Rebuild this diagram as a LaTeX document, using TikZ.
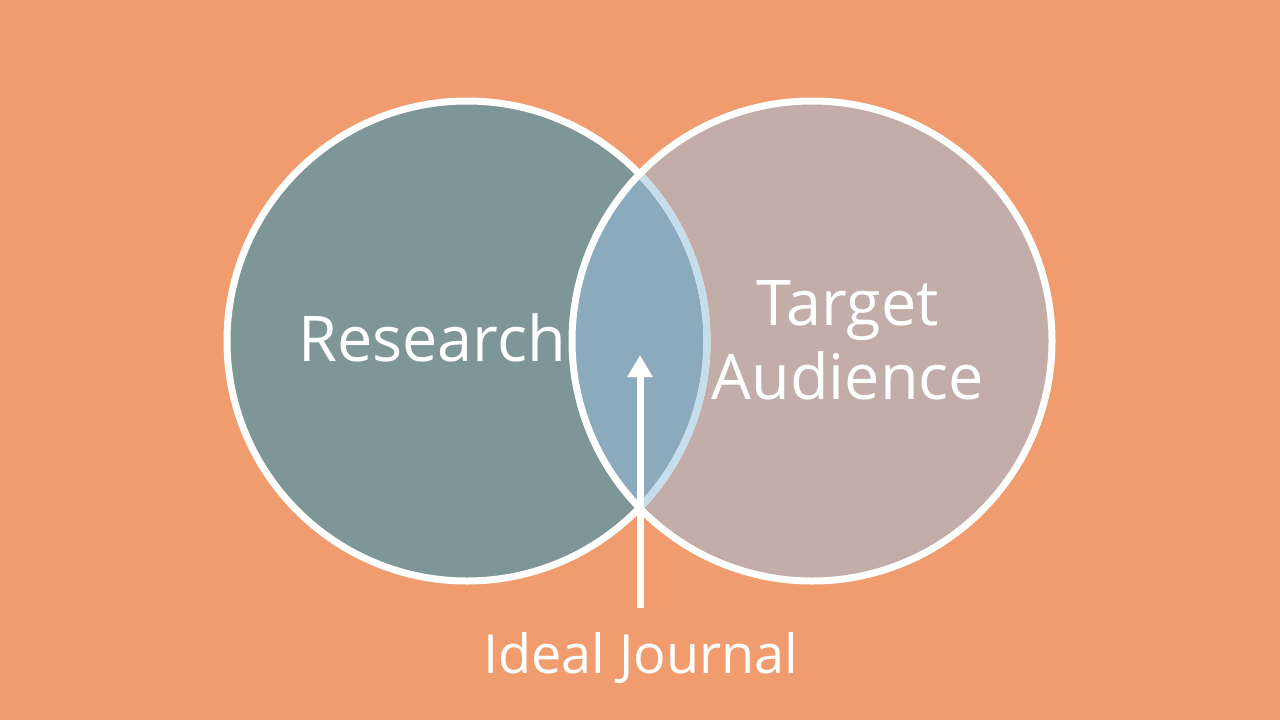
\documentclass[tikz,border=0pt]{standalone}
\usepackage{fontspec}
\setmainfont{Open Sans}
\usetikzlibrary{arrows.meta}
\definecolor{bgc}{HTML}{F09C6E}
\definecolor{leftc}{HTML}{7F9696}
\definecolor{rightc}{HTML}{C2ADA8}
\definecolor{lensc}{HTML}{8CAABD}
\definecolor{lensedge}{HTML}{C6DDEC}
\begin{document}
\begin{tikzpicture}[x=1pt,y=-1pt,
  ring/.style={draw=white,line width=7pt},
  lbl/.style={text=white,font=\fontsize{63}{74}\selectfont,align=center,inner sep=0pt}]
\fill[bgc] (0,0) rectangle (1280,720);
\useasboundingbox (0,0) rectangle (1280,720);
\coordinate (cl) at (467,341);
\coordinate (cr) at (812,341);
\fill[leftc] (cl) circle[radius=240pt];
\fill[rightc] (cr) circle[radius=240pt];
\begin{scope}
  \clip (cl) circle[radius=240pt];
  \fill[lensc] (cr) circle[radius=240pt];
\end{scope}
\draw[ring] (cl) circle[radius=240pt];
\begin{scope}
  \clip (cr) circle[radius=240pt];
  \draw[draw=lensedge,line width=7pt] (cl) circle[radius=240pt];
\end{scope}
\draw[ring] (cr) circle[radius=240pt];
\node[lbl] (research) at (432,338) {Research};
\node[lbl] (target) at (848,340) {Target\\Audience};
\node[lbl,font=\fontsize{54}{64}\selectfont] (ideal) at (641,658) {Ideal Journal};
\coordinate (abase) at (640,608);
\coordinate (atip) at (640,355);
\draw[white,line width=7pt,-{Triangle[width=24pt,length=22pt]}] (abase) -- (atip);
\end{tikzpicture}
\end{document}
